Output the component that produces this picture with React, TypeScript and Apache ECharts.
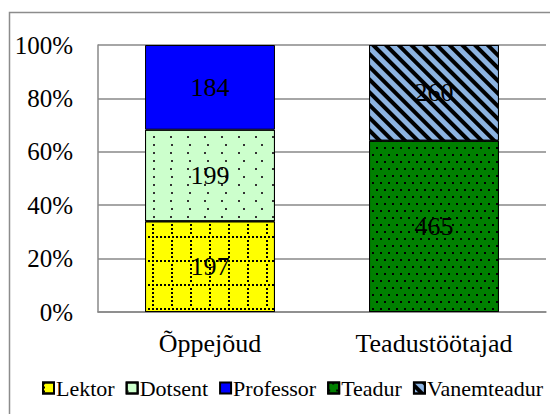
import React, { useEffect, useRef } from "react";
import * as echarts from "echarts";

const categories = ["Õppejõud", "Teadustöötajad"];
const seriesNames = ["Lektor", "Dotsent", "Professor", "Teadur", "Vanemteadur"];
const lektor = [197, null];
const dotsent = [199, null];
const professor = [184, null];
const teadur = [null, 465];
const vanemteadur = [null, 260];
const yTicks = [0, 20, 40, 60, 80, 100];

const FONT = "Liberation Serif";

export default function App() {
  const ref = useRef<HTMLDivElement>(null);
  useEffect(() => {
    if (!ref.current) return;
    const chart = echarts.init(ref.current, null, { renderer: "svg" });
    const raw = [lektor, dotsent, professor, teadur, vanemteadur];
    const totals = categories.map((_, i) =>
      raw.reduce((s, arr) => s + (arr[i] ?? 0), 0)
    );
    const colors = ["#FFFF00", "#CCFFCC", "#0000FF", "#008000", "#8DB4E2"];
    const decals: any[] = [
      {
        symbol: "rect",
        symbolSize: 1,
        color: "#000",
        dashArrayX: [[1.5, 1.5], [1.5, 16.5], [1.5, 16.5], [1.5, 16.5], [1.5, 16.5], [1.5, 16.5]],
        dashArrayY: [1.5, 1.5],
        rotation: 0,
      },
      {
        symbol: "rect",
        symbolSize: 1,
        color: "#333",
        dashArrayX: [[2, 15], [0, 8.5, 2, 6.5]],
        dashArrayY: [2, 6],
        rotation: 0,
      },
      null,
      {
        symbol: "rect",
        symbolSize: 1,
        color: "#000",
        dashArrayX: [[2, 6], [0, 4, 2, 2]],
        dashArrayY: [2, 5],
        rotation: 0,
      },
      {
        symbol: "rect",
        symbolSize: 1,
        color: "#000",
        dashArrayX: [1, 0],
        dashArrayY: [4, 5],
        rotation: Math.PI / 4,
      },
    ];
    const series = raw.map((arr, si) => ({
      name: seriesNames[si],
      type: "bar",
      stack: "total",
      barWidth: "58%",
      data: arr.map((v, i) =>
        v == null ? "-" : { value: (v / totals[i]) * 100, raw: v }
      ),
      itemStyle: {
        color: colors[si],
        borderColor: "#000",
        borderWidth: 1,
        ...(decals[si] ? { decal: decals[si] } : {}),
      },
      label: {
        show: true,
        position: "inside",
        color: "#000",
        fontFamily: FONT,
        fontSize: 26,
        formatter: (p: any) => String(p.data.raw),
      },
    }));
    chart.setOption({
      animation: false,
      backgroundColor: "#fff",
      textStyle: { fontFamily: FONT },
      grid: { left: 98, right: 4, top: 45, bottom: 102 },
      graphic: [
        {
          type: "rect",
          shape: { x: 9.5, y: 12.5, width: 600, height: 500 },
          style: { fill: "none", stroke: "#8c8c8c", lineWidth: 1.5 },
          silent: true,
          z: -1,
        },
      ],
      legend: {
        data: seriesNames,
        top: 372,
        left: 37,
        icon: "rect",
        itemWidth: 11,
        itemHeight: 11,
        itemGap: 11,
        textStyle: { fontFamily: FONT, fontSize: 22, color: "#000", padding: [0, 0, 0, -3] },
      },
      xAxis: {
        type: "category",
        data: categories,
        axisLine: { show: true, lineStyle: { color: "#888", width: 1.5 } },
        axisTick: { show: false },
        axisLabel: { fontFamily: FONT, fontSize: 26, color: "#000", margin: 18 },
      },
      yAxis: {
        type: "value",
        min: yTicks[0],
        max: yTicks[yTicks.length - 1],
        interval: 20,
        axisLine: { show: true, lineStyle: { color: "#888", width: 1.5 } },
        axisTick: { show: false },
        splitLine: { lineStyle: { color: "#888", width: 1.5 } },
        axisLabel: {
          fontFamily: FONT,
          fontSize: 25,
          color: "#000",
          margin: 25,
          formatter: "{value}%",
        },
      },
      series,
    });
    return () => chart.dispose();
  }, []);
  return (
    <div
      ref={ref}
      style={{ position: "fixed", left: 0, top: 0, width: 550, height: 414 }}
    />
  );
}
